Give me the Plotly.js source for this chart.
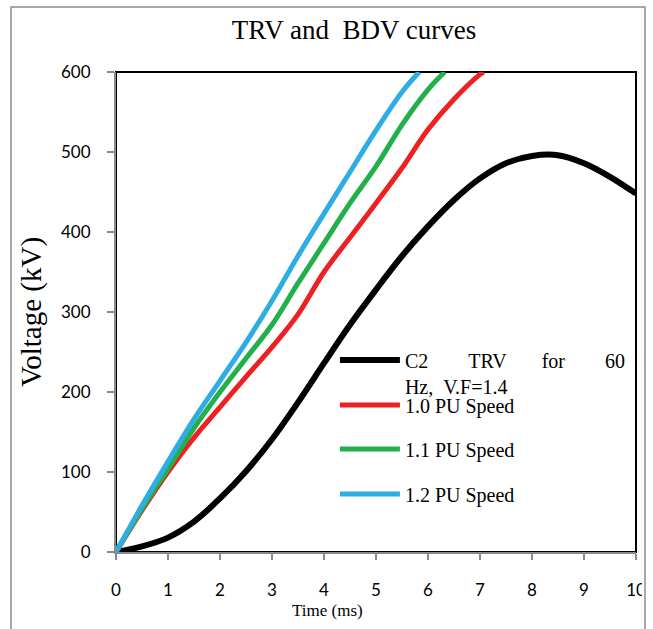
<!DOCTYPE html>
<html>
<head>
<meta charset="utf-8">
<script src="https://cdn.plot.ly/plotly-3.0.1.min.js"></script>
<style>html,body{margin:0;padding:0;background:#fff;}</style>
</head>
<body>
<div id="chart" style="width:653px;height:629px;"></div>
<script>
// TRV curve (C2, 60 Hz, V.F=1.4)
const trvTime = [0, 0.5, 1, 1.5, 2, 2.5, 3, 3.5, 4, 4.5, 5, 5.5, 6, 6.5, 7, 7.5, 8, 8.5, 9, 9.5, 10];
const trvVolt = [0, 7, 18, 38, 67, 101, 141, 187, 236, 284, 328, 370, 407, 440, 467, 486, 495, 496, 486, 469, 448];

// BDV curves
const speed10Time = [0, 0.5, 1, 1.5, 2, 2.5, 3, 3.5, 4, 4.5, 5, 5.5, 6, 6.5, 7, 7.07];
const speed10Volt = [0, 52, 100, 143, 181, 219, 256, 297, 350, 393, 436, 480, 528, 566, 597, 600];

const speed11Time = [0, 0.5, 1, 1.5, 2, 2.5, 3, 3.5, 4, 4.5, 5, 5.5, 6, 6.32];
const speed11Volt = [0, 54, 104, 155, 200, 242, 284, 336, 386, 436, 482, 534, 578, 600];

const speed12Time = [0, 0.5, 1, 1.5, 2, 2.5, 3, 3.5, 4, 4.5, 5, 5.5, 5.83];
const speed12Volt = [0, 58, 113, 166, 214, 262, 314, 370, 423, 475, 527, 575, 600];

const nb = n => '\u00a0'.repeat(n);
const seriesNames = [
  'C2' + nb(8) + 'TRV' + nb(7) + 'for' + nb(8) + '60<br>Hz,' + nb(2) + 'V.F=1.4',
  '1.0 PU Speed', '1.1 PU Speed', '1.2 PU Speed'
];
const xTicks = [0,1,2,3,4,5,6,7,8,9,10];
const yTicks = [0,100,200,300,400,500,600];

const traces = [
  {x: trvTime, y: trvVolt, name: seriesNames[0], mode: 'lines', legend: 'legend',
   line: {color: '#000000', width: 6, shape: 'spline'}},
  {x: speed10Time, y: speed10Volt, name: seriesNames[1], mode: 'lines', legend: 'legend2',
   line: {color: '#ED2024', width: 5, shape: 'spline'}},
  {x: speed11Time, y: speed11Volt, name: seriesNames[2], mode: 'lines', legend: 'legend3',
   line: {color: '#21B04B', width: 5, shape: 'spline'}},
  {x: speed12Time, y: speed12Volt, name: seriesNames[3], mode: 'lines', legend: 'legend4',
   line: {color: '#2DADE3', width: 5, shape: 'spline'}}
];

const legFont = {family: 'Liberation Serif, Times New Roman, serif', size: 20, color: '#000'};
function leg(y) {
  return {x: 0.421, y: y, xanchor: 'left', yanchor: 'middle', valign: 'top',
          bgcolor: 'rgba(0,0,0,0)', borderwidth: 0, itemwidth: 60, font: legFont};
}

const layout = {
  width: 653, height: 629,
  margin: {l: 116, r: 17, t: 72, b: 77},
  paper_bgcolor: '#ffffff', plot_bgcolor: '#ffffff',
  showlegend: true,
  title: {text: 'TRV and  BDV curves', x: 354/653, xref: 'container', xanchor: 'center',
          y: 1 - 30/629, yref: 'container', yanchor: 'middle',
          font: {family: 'Liberation Serif, Times New Roman, serif', size: 27, color: '#000'}},
  xaxis: {range: [0, 10], tickvals: xTicks, ticktext: xTicks.map(String),
          showgrid: false, zeroline: false, showline: true, linecolor: '#8a8a8a', linewidth: 2,
          ticks: 'outside', ticklen: 6, tickwidth: 2, tickcolor: '#8a8a8a',
          ticklabelstandoff: 16,
          tickfont: {family: 'Lato, sans-serif', size: 17, color: '#000'}},
  yaxis: {range: [0, 600], tickvals: yTicks, ticktext: yTicks.map(String),
          showgrid: false, zeroline: false, showline: true, linecolor: '#8a8a8a', linewidth: 2,
          ticks: 'outside', ticklen: 7, tickwidth: 2, tickcolor: '#8a8a8a',
          ticklabelstandoff: 13,
          tickfont: {family: 'Lato, sans-serif', size: 17, color: '#000'},
          title: {text: 'Voltage (kV)', standoff: 11,
                  font: {family: 'Liberation Serif, Times New Roman, serif', size: 29, color: '#000'}}},
  legend: leg(0.373),
  legend2: leg((552-405)/480),
  legend3: leg((552-449)/480),
  legend4: leg((552-494)/480),
  annotations: [
    {text: 'Time (ms)', xref: 'paper', yref: 'paper', x: (327-116)/520, y: (552-610)/480,
     xanchor: 'center', yanchor: 'middle', showarrow: false,
     font: {family: 'Liberation Serif, Times New Roman, serif', size: 17, color: '#000'}}
  ],
  shapes: [
    {type: 'rect', xref: 'paper', yref: 'paper', x0: 0, x1: 1, y0: 0, y1: 1,
     line: {color: '#000', width: 2}, layer: 'below'},
    {type: 'rect', xref: 'paper', yref: 'paper', x0: (642-116)/520, x1: 1.05, y0: -0.3, y1: 1.2,
     fillcolor: '#ffffff', line: {width: 0}, layer: 'above'},
    {type: 'rect', xref: 'paper', yref: 'paper', x0: (11-116)/520, x1: (645-116)/520,
     y0: -0.3, y1: (552-7)/480, line: {color: '#8c8c8c', width: 1.5}, layer: 'above'}
  ]
};

Plotly.newPlot('chart', traces, layout, {displayModeBar: false, staticPlot: true});
</script>
</body>
</html>
